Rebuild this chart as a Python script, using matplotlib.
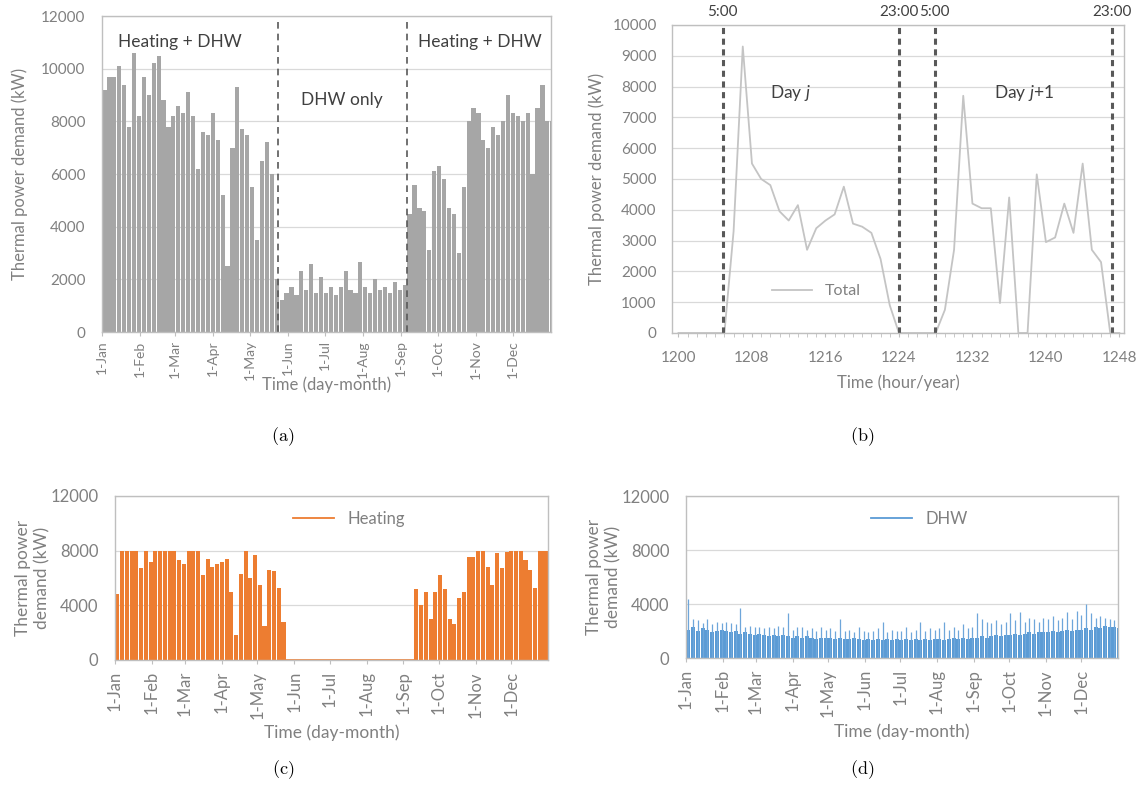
import numpy as np
import matplotlib
matplotlib.use('Agg')
import matplotlib.pyplot as plt
from matplotlib.lines import Line2D

plt.rcParams['font.family'] = ['Lato', 'DejaVu Sans']
plt.rcParams['mathtext.fontset'] = 'custom'
plt.rcParams['mathtext.rm'] = 'Lato'
plt.rcParams['mathtext.it'] = 'Lato:italic'

# ── data ─────────────────────────────────────────────────────────
month_labels = ['1-Jan', '1-Feb', '1-Mar', '1-Apr', '1-May', '1-Jun',
                '1-Jul', '1-Aug', '1-Sep', '1-Oct', '1-Nov', '1-Dec']
month_days = [0, 31, 59, 90, 120, 151, 181, 212, 243, 273, 304, 334]

bin_days = np.arange(0, 365, 4)   # 4-day bins, start day of each

# (a) total demand, peak per 4-day bin (kW)
total_peak = [
    9200, 9700, 9700, 10100, 9400, 7800, 10600, 8200, 9700, 9000,
    10200, 10500, 8800, 7800, 8200, 8600, 8300, 9100, 8200, 6200,
    7600, 7500, 8300, 7300, 5200, 2500, 7000, 9300, 7700, 7500,
    5500, 3500, 6500, 7200, 6000, 2000,
    1200, 1500, 1700, 1400, 2300, 1600, 2600, 1500, 2100, 1500,
    1700, 1400, 1700, 2300, 1600, 1500, 2650, 1700, 1500, 2000,
    1600, 1700, 1500, 1900, 1600, 1800,
    4500, 5600, 4700, 4600, 3100, 6100, 6300, 5800, 4700, 4500,
    3000, 5500, 8000, 8500, 8300, 7300, 7000, 7800, 7500, 8000,
    9000, 8300, 8200, 8000, 8300, 6000, 8500, 9400, 8000, 8000,
]

# (c) heating demand, peak per 4-day bin (kW)
heating_peak = [
    4800, 8000, 8000, 8000, 8000, 6700, 8000, 7200, 8000, 8000,
    8000, 8000, 8000, 7300, 7000, 8000, 8000, 8000, 6200, 7400,
    6800, 7000, 7200, 7400, 5000, 1800, 6300, 8000, 6000, 7700,
    5500, 2500, 6600, 6500, 5300, 2800,
    0, 0, 0, 0, 0, 0, 0, 0, 0, 0, 0, 0, 0,
    0, 0, 0, 0, 0, 0, 0, 0, 0, 0, 0, 0, 0,
    0, 5200, 4000, 5000, 3000, 5000, 6200, 5200, 3000, 2600,
    4500, 5000, 7500, 7500, 8000, 8000, 6800, 5500, 7800, 6700,
    7900, 8000, 8000, 8000, 7300, 6600, 5300, 8000, 8000, 8000,
]

# (d) DHW demand: dense level and spikes per 4-day bin (kW)
dhw_body = [
    2100, 2300, 2000, 2200, 2100, 1900, 2000, 2100,
    2000, 1900, 2000, 1800, 1900, 1800, 1700,
    1800, 1700, 1600, 1700, 1600, 1700, 1600, 1500,
    1600, 1500, 1600, 1500, 1400, 1500, 1500,
    1500, 1400, 1500, 1400, 1400, 1500, 1400, 1300,
    1400, 1300, 1400, 1300, 1400, 1300, 1400,
    1300, 1400, 1300, 1400, 1300, 1400, 1300, 1400,
    1400, 1300, 1400, 1500, 1400, 1500, 1400, 1500,
    1500, 1600, 1500, 1600, 1700, 1600, 1700,
    1700, 1800, 1700, 1800, 1900, 1800, 1900, 1900,
    1900, 2000, 1900, 2000, 2100, 2000, 2100,
    2100, 2200, 2100, 2300, 2200, 2400, 2300, 2300, 2200,
]
dhw_peak = [
    4400, 2900, 2800, 2600, 2900, 2500, 2700, 2600,
    2700, 2600, 2500, 3700, 2300, 2400, 2300,
    2300, 2200, 2300, 2200, 2400, 2300, 3300, 2100,
    2300, 2300, 2100, 2200, 2000, 2300, 2100,
    2200, 2000, 2900, 2000, 2100, 1900, 2300, 2000,
    1900, 2000, 2200, 2700, 1900, 2100, 2000,
    2000, 2300, 1900, 2100, 2700, 2000, 2200, 2100,
    2200, 2700, 2100, 2300, 2100, 2500, 2200, 2300,
    3300, 2900, 2700, 2600, 2800, 2500, 2700,
    3300, 2800, 3400, 2700, 3000, 2900, 2700, 3000,
    2900, 3100, 2800, 3000, 3400, 2900, 3500,
    3200, 4000, 3300, 3000, 3100, 3000, 2900, 2800, 3000,
]

# (b) total demand over two days, hourly (kW)
hours = np.arange(1200, 1249)
total_hourly = [
    0, 0, 0, 0, 0, 0, 3300, 9300, 5500, 5000,
    4800, 3950, 3650, 4150, 2700, 3400, 3650, 3850, 4750, 3550,
    3450, 3250, 2400, 900, 0, 0, 0, 0, 0, 750,
    2700, 7700, 4200, 4050, 4050, 970, 4400, 0, 0, 5150,
    2950, 3100, 4200, 3250, 5500, 2700, 2300, 0, 0,
]
shift_hours = [1204.8, 1224.0, 1227.9, 1247.2]
shift_labels = ['5:00', '23:00', '5:00', '23:00']

season_bounds = [143, 248]

# ── style ────────────────────────────────────────────────────────
GRID = '#d9d9d9'
SPINE = '#bfbfbf'
TICK = '#808080'
DARK = '#404040'


def frame(ax):
    for s in ax.spines.values():
        s.set_color(SPINE)
        s.set_linewidth(1.0)
    ax.grid(axis='y', color=GRID, linewidth=0.9)
    ax.set_axisbelow(True)


def year_axis(ax, fs, pad=5):
    ax.set_xlim(0, 365)
    ax.set_xticks(month_days)
    ax.set_xticklabels(month_labels, rotation=90, fontsize=fs, color=TICK)
    ax.tick_params(axis='x', length=3, color=SPINE, pad=pad)


fig = plt.figure(figsize=(11.48, 7.87), dpi=100)

# ── (a) total annual ─────────────────────────────────────────────
ax = fig.add_axes([0.0889, 0.5781, 0.3911, 0.4015])
frame(ax)
ax.bar(bin_days + 0.3, total_peak, width=3.4, align='edge',
       color='#a6a6a6', linewidth=0)
for d in season_bounds:
    ax.axvline(d, color='#595959', linestyle=(0, (4, 3)), linewidth=1.2)
ax.set_ylim(0, 12000)
ax.set_yticks(range(0, 12001, 2000))
ax.tick_params(axis='y', length=0, labelsize=11, labelcolor=TICK, pad=12)
year_axis(ax, 10, pad=3)
ax.set_ylabel('Thermal power demand (kW)', fontsize=12, color=TICK)
ax.yaxis.set_label_coords(-0.165, 0.5)
ax.set_xlabel('Time (day-month)', fontsize=12, color=TICK)
ax.xaxis.set_label_coords(0.5, -0.14)
ax.text(0.174, 0.918, 'Heating + DHW', transform=ax.transAxes,
        ha='center', va='center', fontsize=12.5, color=DARK)
ax.text(0.535, 0.734, 'DHW only', transform=ax.transAxes,
        ha='center', va='center', fontsize=12.5, color=DARK)
ax.text(0.842, 0.918, 'Heating + DHW', transform=ax.transAxes,
        ha='center', va='center', fontsize=12.5, color=DARK)

# ── (b) two days, hourly ─────────────────────────────────────────
ax = fig.add_axes([0.5854, 0.5769, 0.3937, 0.3914])
frame(ax)
ax.plot(hours, total_hourly, color='#c4c4c4', linewidth=1.3)
for h, lab in zip(shift_hours, shift_labels):
    ax.axvline(h, color='#595959', linestyle=(0, (2, 1.5)), linewidth=2.2)
    ax.annotate(lab, xy=(h, 1.02), xycoords=('data', 'axes fraction'),
                ha='center', va='bottom', fontsize=11, color=DARK)
ax.set_xlim(1199.3, 1248.5)
ax.set_ylim(0, 10000)
ax.set_xticks(range(1200, 1249, 8))
ax.set_xticks(hours, minor=True)
ax.set_yticks(range(0, 10001, 1000))
ax.tick_params(axis='y', length=0, labelsize=11, labelcolor=TICK, pad=11)
ax.tick_params(axis='x', which='both', length=3, color=SPINE,
               labelsize=11, labelcolor=TICK, pad=10)
ax.set_ylabel('Thermal power demand (kW)', fontsize=12, color=TICK)
ax.yaxis.set_label_coords(-0.148, 0.5)
ax.set_xlabel('Time (hour/year)', fontsize=12, color=TICK)
ax.xaxis.set_label_coords(0.5, -0.136)
ax.text(1212.2, 7800, r'Day $j$', ha='center', va='center',
        fontsize=12.5, color=DARK)
ax.text(1237.6, 7800, r'Day $j$+$1$', ha='center', va='center',
        fontsize=12.5, color=DARK)
ax.legend(handles=[Line2D([], [], color='#c4c4c4', linewidth=1.3)],
          labels=['Total'], loc='center', bbox_to_anchor=(0.32, 0.136),
          frameon=False, fontsize=11.5, labelcolor=TICK, handlelength=2.5)

# ── (c) heating ──────────────────────────────────────────────────
heat = np.array(heating_peak)
ax = fig.add_axes([0.1002, 0.1614, 0.3772, 0.2084])
frame(ax)
ax.bar(bin_days + 0.3, heat, width=3.4, align='edge',
       color='#ed7d31', linewidth=0)
off = heat == 0
ax.plot(np.r_[bin_days[off], bin_days[off][-1] + 4], np.r_[heat[off], 0],
        color='#ed7d31', linewidth=1.2)
ax.set_ylim(0, 12000)
ax.set_yticks(range(0, 12001, 4000))
ax.tick_params(axis='y', length=0, labelsize=12, labelcolor=TICK, pad=12)
year_axis(ax, 12)
ax.set_ylabel('Thermal power\ndemand (kW)', fontsize=12.5, color=TICK)
ax.yaxis.set_label_coords(-0.15, 0.5)
ax.set_xlabel('Time (day-month)', fontsize=12.5, color=TICK)
ax.xaxis.set_label_coords(0.5, -0.39)
ax.legend(handles=[Line2D([], [], color='#ed7d31', linewidth=1.3)],
          labels=['Heating'], loc='upper center', bbox_to_anchor=(0.54, 1.0),
          frameon=False, fontsize=12, labelcolor=TICK, handlelength=2.5)

# ── (d) DHW ──────────────────────────────────────────────────────
ax = fig.add_axes([0.5976, 0.1639, 0.3763, 0.2058])
frame(ax)
ax.vlines(bin_days + 2, 0, dhw_peak, color='#6ea6da', linewidth=0.9)
ax.bar(bin_days + 0.3, dhw_body, width=3.4, align='edge',
       color='#5b9bd5', linewidth=0)
ax.set_ylim(0, 12000)
ax.set_yticks(range(0, 12001, 4000))
ax.tick_params(axis='y', length=0, labelsize=12, labelcolor=TICK, pad=12)
year_axis(ax, 12)
ax.set_ylabel('Thermal power\ndemand (kW)', fontsize=12.5, color=TICK)
ax.yaxis.set_label_coords(-0.15, 0.5)
ax.set_xlabel('Time (day-month)', fontsize=12.5, color=TICK)
ax.xaxis.set_label_coords(0.5, -0.407)
ax.legend(handles=[Line2D([], [], color='#5b9bd5', linewidth=1.3)],
          labels=['DHW'], loc='upper center', bbox_to_anchor=(0.54, 1.0),
          frameon=False, fontsize=12, labelcolor=TICK, handlelength=2.5)

# ── captions ─────────────────────────────────────────────────────
for x, y, lab in [(0.2465, 0.4447, 'a'), (0.7509, 0.4447, 'b'),
                  (0.2465, 0.0216, 'c'), (0.7509, 0.0216, 'd')]:
    fig.text(x, y, r'$\mathrm{(' + lab + ')}$', ha='center', va='center',
             fontsize=13, color='black', math_fontfamily='cm')

fig.savefig('out.png', dpi=100)
